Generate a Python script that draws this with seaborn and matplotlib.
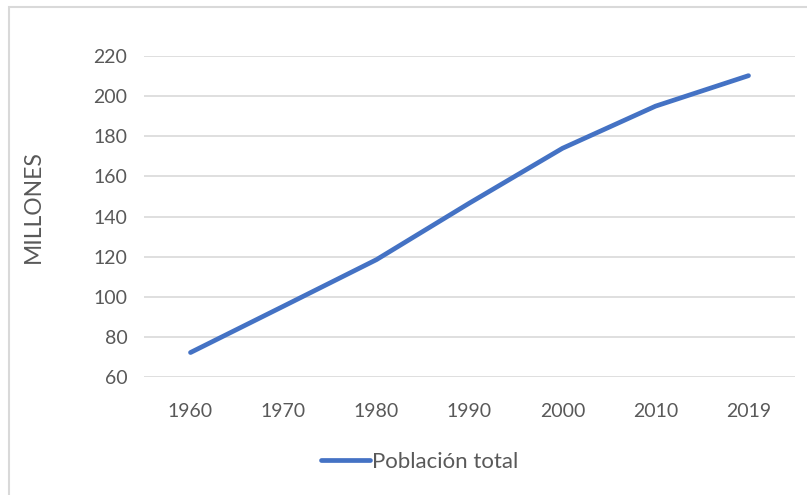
import pandas as pd
import matplotlib.pyplot as plt
import matplotlib.patches as mpatches
import seaborn as sns

# Data
years = ["1960", "1970", "1980", "1990", "2000", "2010", "2019"]
population = [72.2, 95.3, 118.5, 146.7, 174.0, 195.0, 210.2]
yticks = [60, 80, 100, 120, 140, 160, 180, 200, 220]

df = pd.DataFrame({"year": years, "pop": population})
df["pos"] = range(len(df))

sns.set_style("white")
plt.rcParams["font.family"] = ["Lato", "DejaVu Sans"]
text_color = "#595959"

fig = plt.figure(figsize=(8.07, 4.95), dpi=100)
ax = fig.add_axes([144 / 807, 1 - 377 / 495, (795 - 144) / 807, (377 - 56) / 495])

sns.lineplot(data=df, x="pos", y="pop", ax=ax, color="#4472C4", linewidth=3.4,
             label="Población total", solid_capstyle="round")

ax.set_xlim(-0.5, len(years) - 0.5)
ax.set_ylim(60, 220)
ax.set_xticks(df["pos"])
ax.set_xticklabels(years)
ax.set_yticks(yticks)
ax.yaxis.grid(True, color="#D9D9D9", linewidth=1.2)
ax.xaxis.grid(False)
ax.set_axisbelow(True)
for s in ax.spines.values():
    s.set_visible(False)
ax.tick_params(axis="both", length=0, labelsize=14, colors=text_color)
ax.tick_params(axis="x", pad=19)
ax.tick_params(axis="y", pad=12)
ax.set_xlabel("")
ax.set_ylabel("MILLONES", fontsize=16.5, color=text_color)
ax.yaxis.set_label_coords(44 / 807, 1 - 207 / 495, transform=fig.transFigure)

leg = ax.legend(loc="center", bbox_to_anchor=(420 / 807, 1 - 462 / 495),
                bbox_transform=fig.transFigure, frameon=False, fontsize=16,
                handlelength=2.2, handletextpad=0.1)
for t in leg.get_texts():
    t.set_color(text_color)

# chart border
fig.patches.append(mpatches.Rectangle((9 / 807, -0.1), 1.2, 1 - 7 / 495 + 0.1,
                                      transform=fig.transFigure, fill=False,
                                      edgecolor="#D9D9D9", linewidth=1.5))

plt.savefig("out.png", dpi=100)
